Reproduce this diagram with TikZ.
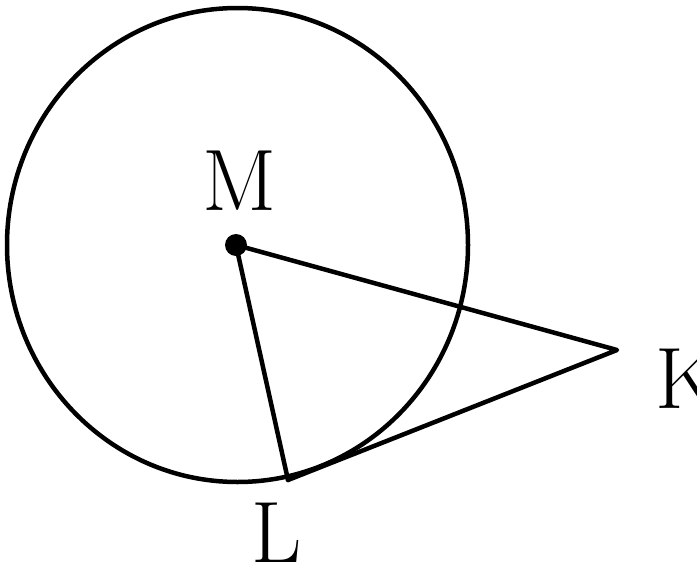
\documentclass[tikz,border=0pt]{standalone}
\usepackage{tikz}
\usetikzlibrary{calc}

\begin{document}
\begin{tikzpicture}[
  x=0.025cm,y=-0.025cm,
  seg/.style={line width=3.2pt,line cap=round,line join=round},
  lbl/.style={font=\fontsize{62}{68}\selectfont,inner sep=0pt}
]
\useasboundingbox (0,0) rectangle (697,573);
\coordinate (M) at (236,245);
\coordinate (L) at (288,480);
\coordinate (K) at (617,350);
\draw[seg] (237.5,245) ellipse [x radius=230.5,y radius=237];
\draw[seg] (M) -- (L);
\draw[seg] (M) -- (K) -- (L);
\fill (M) circle [radius=11];
\node[lbl] (m) at (240,181) {M};
\node[lbl] (l) at (277,533) {L};
\node[lbl,anchor=west] (k) at (655,379) {K};
\end{tikzpicture}
\end{document}
